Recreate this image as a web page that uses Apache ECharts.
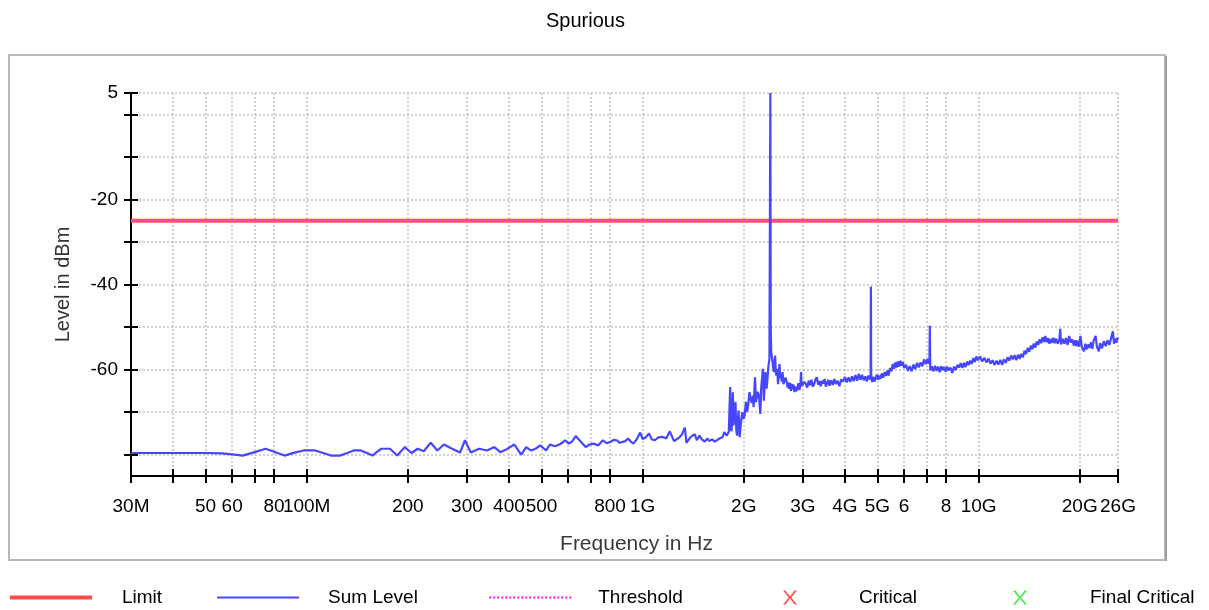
<!DOCTYPE html>
<html>
<head>
<meta charset="utf-8">
<script src="https://cdn.jsdelivr.net/npm/echarts@6/dist/echarts.min.js"></script>
<style>html,body{margin:0;padding:0;background:#fff}#c{width:1209px;height:610px}</style>
</head>
<body>
<div id="c"></div>
<script>
// ---- data (frequency in MHz, level in dBm) ----
const xTickValues = [30,40,50,60,70,80,100,200,300,400,500,600,700,800,1000,2000,3000,4000,5000,6000,7000,8000,10000,20000,26000];
const xLabelValues = [30,50,60,80,100,200,300,400,500,800,1000,2000,3000,4000,5000,6000,8000,10000,20000,26000];
const xLabelTexts  = ['30M','50','60','80','100M','200','300','400','500','800','1G','2G','3G','4G','5G','6','8','10G','20G','26G'];
const yTickValues = [5,0,-10,-20,-30,-40,-50,-60,-70,-80];
const yLabelValues = [5,-20,-40,-60];
const limitPoints = [[30,-25],[26000,-25]];
const thresholdPoints = [[30,-25],[26000,-25]];
const sumLevelPoints = [
[30,-79.6],[40,-79.6],[50,-79.6],[56,-79.7],[60,-79.9],[64.5,-80.2],[70,-79.4],[75.5,-78.6],[80,-79.3],[86,-80.2],[92,-79.5],[98,-79],[106,-79],[112,-79.6],[118,-80.2],[126,-80.2],[132,-79.6],[138,-79],[145,-79],[151,-79.6],[157,-80.2],[162,-79.3],[167,-78.6],[177,-78.6],[186,-80.2],[196,-78.2],[205,-79.6],[214,-78.6],[223,-79.2],[234,-77.2],[245,-79],[256,-77.6],[271,-78.6],[286,-79.5],[296,-76.6],[308,-79.5],[326,-78.6],[344,-79],[362,-78.2],[377,-79.4],[392,-78.8],[415,-77.6],[435,-80],[450,-78.2],[465,-79],[480,-78.6],[496,-77.8],[516,-79],[530,-77.6],[548,-78],[565,-77.6],[576,-77.2],[588,-76.6],[603,-77.4],[617,-76.9],[632,-75.6],[652,-76.8],[664,-77.5],[677,-78.2],[695,-77.6],[714,-77.4],[738,-77.8],[762,-76.6],[781,-77.3],[801,-77],[820,-76.5],[837,-76.6],[855,-77.2],[870,-77],[888,-76.8],[905,-76.2],[922,-76.9],[939,-77.4],[960,-76.4],[983,-74.8],[1000,-76.3],[1018,-76],[1045,-75],[1065,-76.4],[1087,-76.6],[1115,-75.9],[1145,-75.8],[1175,-76.2],[1205,-74.5],[1240,-76.8],[1284,-76],[1310,-75.2],[1336,-73.6],[1350,-77.2],[1390,-75.8],[1430,-75.2],[1450,-76.6],[1477,-75.5],[1500,-76.4],[1530,-76.9],[1560,-76.2],[1580,-76.8],[1610,-76.4],[1640,-76.9],[1670,-76.5],[1700,-76.1],[1730,-75.9],[1750,-74.7],[1780,-75.5],[1805,-74.6],[1822,-64.1],[1830,-73.8],[1840,-74.5],[1856,-65.3],[1864,-73.1],[1873,-71.5],[1890,-67.6],[1900,-74.2],[1910,-75.5],[1930,-69.6],[1945,-75.9],[1960,-72.8],[1980,-70],[1995,-71.6],[2012,-70.8],[2030,-67.6],[2045,-70],[2060,-68.5],[2080,-65.3],[2095,-66.9],[2113,-67.8],[2130,-66.1],[2140,-68.8],[2160,-61.8],[2175,-67.6],[2200,-65.2],[2220,-66.1],[2240,-70.4],[2255,-64.1],[2280,-59.8],[2295,-67.3],[2320,-60.6],[2340,-64.5],[2370,-59],[2385,-57.5],[2400,5],[2406,-50.5],[2415,-56],
[2430,-57.5],[2445,-59.5],[2460,-60.6],[2470,-58.2],[2480,-56.7],[2490,-60.2],[2500,-61.4],[2515,-59.8],[2530,-63.4],[2545,-60.5],[2555,-58.7],[2570,-62],[2580,-61.4],[2595,-62.8],[2610,-60.6],[2625,-63.4],[2640,-63],[2660,-61.9],[2680,-62.6],[2700,-64.2],[2715,-63],[2730,-64.5],[2750,-63.1],[2765,-65],[2780,-63.4],[2800,-64.6],[2815,-63.5],[2830,-65.3],[2850,-64],[2870,-65.1],[2890,-64.1],[2910,-63.2],[2930,-64.8],[2950,-63.5],[2960,-60.6],[2975,-63.8],[3000,-64.1],
[3030,-62.9],[3060,-63.4],[3090,-64.2],[3120,-62.6],[3150,-63.7],[3180,-62.4],[3210,-64],[3240,-63.4],[3270,-62.3],[3300,-61.8],[3330,-63.5],[3360,-62.7],[3390,-63.9],[3420,-62.6],[3450,-63.3],[3480,-62.2],[3510,-64],[3540,-63.1],[3570,-62.4],[3600,-63.8],[3640,-62.5],[3680,-63.6],[3720,-62.2],[3760,-63.4],[3800,-62.6],[3850,-63.9],[3900,-62.3],[3950,-62.8],[4000,-61.7],[4050,-63],[4100,-61.8],[4150,-62.9],[4200,-61.6],[4250,-62.7],[4300,-61.3],[4350,-62.6],[4400,-61],[4450,-62.4],[4500,-61.2],[4550,-62.5],[4600,-61.6],[4650,-62.8],[4700,-61.4],[4750,-62.3],[4770,-61.5],[4780,-40.5],[4790,-61.8],[4820,-62.9],[4860,-61.7],[4900,-62.8],[4940,-62.6],[4980,-61.2],[5020,-62.4],[5060,-61.4],[5100,-62.2],[5150,-60.9],[5200,-61.9],[5250,-60.6],[5300,-61.5],[5350,-60.2],[5400,-61.4],[5450,-59.6],[5500,-60.4],[5550,-58.7],[5600,-59.8],[5650,-58.3],[5700,-59.5],[5750,-58.1],[5800,-59.3],[5850,-57.9],[5900,-59.1],[5950,-58.2],[6000,-59.6],
[6080,-58.9],[6160,-60.3],[6240,-59.2],[6320,-60.4],[6400,-58.8],[6480,-59.9],[6560,-58.4],[6640,-59.5],[6720,-58.3],[6800,-59.2],[6880,-57.6],[6960,-58.7],[7040,-57.5],[7100,-58.6],[7140,-58],[7160,-49.7],[7180,-60.2],[7260,-59.2],[7340,-60.4],[7420,-59.1],[7500,-60.3],[7580,-59.3],[7660,-60.6],[7740,-59.2],[7820,-60.1],[7900,-59.4],[7980,-60.5],[8060,-59.3],[8140,-60.2],[8250,-59.5],[8350,-60.8],[8450,-59.3],[8550,-60.1],[8650,-58.9],[8750,-59.5],[8850,-58.5],[8950,-59.6],[9050,-58.4],[9150,-59.4],[9250,-58.1],[9350,-58.9],[9450,-57.9],[9550,-58.6],[9650,-57.3],[9750,-58.2],[9850,-56.9],[9950,-57.8],
[10100,-56.9],[10250,-58.1],[10400,-57.2],[10550,-58.3],[10700,-57.4],[10850,-58.6],[11000,-57.8],[11150,-58.9],[11300,-57.9],[11450,-58.8],[11600,-57.7],[11750,-58.9],[11900,-57.6],[12050,-58.4],[12200,-57.1],[12350,-57.9],[12500,-56.7],[12650,-57.6],[12800,-56.6],[12950,-57.8],[13100,-56.5],[13250,-57.5],[13400,-56.3],[13550,-57.1],[13700,-55.6],[13850,-56.3],[14000,-54.9],[14150,-55.8],[14300,-54.4],[14450,-55.2],[14600,-53.9],[14750,-54.8],[14900,-53.4],[15050,-54.2],[15200,-52.9],[15350,-53.8],[15500,-52.4],[15650,-53.5],[15800,-52.1],[15950,-53.6],[16100,-52.6],[16250,-53.9],[16400,-52.8],[16550,-53.7],[16700,-52.5],[16850,-53.8],[17000,-52.7],[17200,-53.9],[17400,-52.9],[17500,-50.4],[17600,-54.1],[17800,-52.8],[18000,-53.9],[18200,-52.6],[18400,-54.2],[18600,-52.1],[18800,-53.6],[19000,-52.9],[19200,-54.3],[19400,-53.1],[19500,-54.5],[19700,-53.2],[19900,-54.6],[20100,-52.1],[20300,-54.8],[20600,-55.7],[20800,-53.9],[21000,-55.2],[21200,-54.1],[21400,-54.9],[21600,-53.6],[21800,-55.1],[22000,-53.2],[22300,-52.1],[22500,-54.6],[22800,-55.7],[23000,-53.8],[23300,-55],[23600,-53.3],[23900,-54.5],[24200,-53.1],[24500,-54.2],[24800,-52.6],[25100,-51],[25300,-53.9],[25500,-52.7],[25700,-53.7],[25900,-52.5],[26000,-52.9]
];

// ---- chart ----
const FONT = '"Liberation Sans", Arial, sans-serif';
const xPath = 'path://M0,0L2.4,0L7,6L11.6,0L14,0L8.2,7L14,14L11.6,14L7,8L2.4,14L0,14L5.8,7Z';
function xLabel(v) {
  for (let i = 0; i < xLabelValues.length; i++) {
    const t = xLabelValues[i];
    if (Math.abs(t - v) < 1e-6 * t || Math.abs(Math.log10(t) - v) < 1e-9) return xLabelTexts[i];
  }
  return '';
}
const tickLine = {color: '#000', width: 2};
const gridLine = {color: '#c4c4c4', width: 1.5, type: [2, 2]};
const legendText = {fontSize: 19, color: '#000', fontFamily: FONT};
const hiddenSymbol = {color: 'rgba(0,0,0,0)', borderWidth: 0, opacity: 0};
function legendItem(name, left, pad, extra) {
  return Object.assign({
    data: [name], left: left, top: 588, padding: 0, orient: 'horizontal',
    itemWidth: 82, itemHeight: 12, selectedMode: false, itemStyle: hiddenSymbol,
    textStyle: Object.assign({padding: [0, 0, 0, pad]}, legendText)
  }, extra || {});
}
const chart = echarts.init(document.getElementById('c'), null, {renderer: 'canvas'});
chart.setOption({
  animation: false,
  backgroundColor: '#fff',
  title: {text: 'Spurious', left: 546, top: 11, padding: 0,
    textStyle: {fontSize: 20, fontWeight: 'normal', color: '#000', fontFamily: FONT}},
  graphic: [
    {type: 'rect', shape: {x: 9, y: 55, width: 1156, height: 505}, style: {fill: 'none', stroke: '#b8b8b8', lineWidth: 2}, z: -10},
    {type: 'line', shape: {x1: 1166, y1: 56, x2: 1166, y2: 561}, style: {stroke: '#a0a0a0', lineWidth: 2}, z: -10}
  ],
  legend: [
    legendItem('Limit', 8, 25, {lineStyle: {width: 4, color: '#ff4a4a'}}),
    legendItem('Sum Level', 216, 24, {lineStyle: {width: 2.2}}),
    legendItem('Threshold', 488, 22, {lineStyle: {width: 2.5}}),
    legendItem('Critical', 783, 57, {itemWidth: 14, itemHeight: 18, icon: xPath, itemStyle: {}}),
    legendItem('Final Critical', 1013, 58, {itemWidth: 14, itemHeight: 18, icon: xPath, itemStyle: {}})
  ],
  grid: {left: 131, right: 91, top: 93, bottom: 134, containLabel: false},
  xAxis: [
    {type: 'log', logBase: 10, min: 30, max: 26000, position: 'bottom',
     axisLine: {show: true, onZero: false, lineStyle: tickLine},
     axisTick: {show: true, customValues: xTickValues, length: 7, lineStyle: tickLine},
     axisLabel: {customValues: xLabelValues, formatter: xLabel, margin: 21, color: '#000', fontSize: 19, fontFamily: FONT},
     splitLine: {show: true, lineStyle: gridLine},
     name: 'Frequency in Hz', nameLocation: 'middle', nameGap: 58,
     nameTextStyle: {fontSize: 21, color: '#3a3a3a', fontFamily: FONT, padding: [0, 0, 0, 24]}},
    {type: 'log', logBase: 10, min: 30, max: 26000, position: 'bottom',
     axisLine: {show: false, onZero: false},
     axisTick: {show: true, inside: true, customValues: xTickValues, length: 7, lineStyle: tickLine},
     axisLabel: {show: false}, splitLine: {show: false}}
  ],
  yAxis: [
    {type: 'value', min: -85, max: 5, position: 'left',
     axisLine: {show: true, onZero: false, lineStyle: tickLine},
     axisTick: {show: true, customValues: yTickValues, length: 7, lineStyle: tickLine},
     axisLabel: {customValues: yLabelValues, margin: 13, color: '#000', fontSize: 19, fontFamily: FONT},
     splitLine: {show: true, lineStyle: gridLine},
     name: 'Level in dBm', nameLocation: 'middle', nameGap: 58, nameRotate: 90,
     nameTextStyle: {fontSize: 20, color: '#333', fontFamily: FONT}},
    {type: 'value', min: -85, max: 5, position: 'left',
     axisLine: {show: false, onZero: false},
     axisTick: {show: true, inside: true, customValues: yTickValues, length: 7, lineStyle: tickLine},
     axisLabel: {show: false}, splitLine: {show: false}}
  ],
  series: [
    {name: 'Limit', type: 'line', data: limitPoints, symbol: 'none', z: 3,
     lineStyle: {color: '#ff4f5e', width: 4}, itemStyle: {color: '#ff4f5e'}},
    {name: 'Threshold', type: 'line', data: thresholdPoints, symbol: 'none', z: 4,
     lineStyle: {color: '#ff3cf0', width: 1.5, type: [2, 2]}, itemStyle: {color: '#ff3cf0'}},
    {name: 'Sum Level', type: 'line', data: sumLevelPoints, symbol: 'none', z: 5,
     lineStyle: {color: '#4646ff', width: 2.2}, itemStyle: {color: '#4646ff'}},
    {name: 'Critical', type: 'scatter', data: [], symbol: xPath, itemStyle: {color: '#ff2020'}},
    {name: 'Final Critical', type: 'scatter', data: [], symbol: xPath, itemStyle: {color: '#20e020'}}
  ]
});
</script>
</body>
</html>
